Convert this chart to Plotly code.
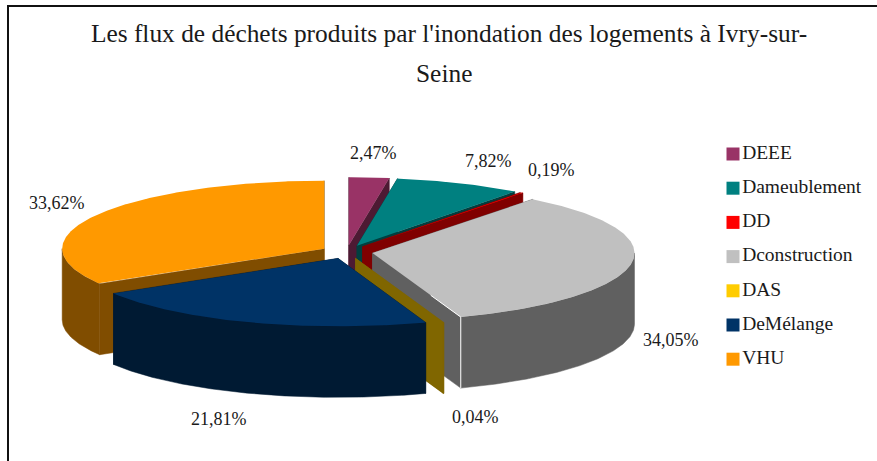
import numpy as np
import plotly.graph_objects as go

categories = ["DEEE", "Dameublement", "DD", "Dconstruction", "DAS", "DeMélange", "VHU"]
shares = [2.47, 7.82, 0.19, 34.05, 0.04, 21.81, 33.62]
top_colors = ["#993366", "#008080", "#FF0000", "#C0C0C0", "#FFCC00", "#003366", "#FF9900"]
side_colors = ["#4D1A33", "#004040", "#800000", "#606060", "#806600", "#001A33", "#804D00"]
title_lines = ["Les flux de déchets produits par l'inondation des logements à Ivry-sur-", "Seine"]

W, H = 877, 461
CX, CY, RX, RY, DEPTH, PULL = 346.8, 252.0, 262.0, 68.0, 71.0, 26.0
FONT = "Liberation Serif"
INK = "#1a1a1a"

label_anchor = [(373, 153), (488, 161), (551, 170), (671, 340), (475, 417), (219, 419), (57, 203)]
draw_order = [0, 1, 2, 3, 4, 6, 5]


def pt(apex, deg):
    t = np.radians(deg)
    return apex[0] + RX * np.sin(t), apex[1] - RY * np.cos(t)


def arc(apex, a, b):
    n = max(2, int(abs(b - a) * 2) + 2)
    ts = np.radians(np.linspace(a, b, n))
    return apex[0] + RX * np.sin(ts), apex[1] - RY * np.cos(ts)


def poly(xs, ys, color, name, lw=0.5):
    return go.Scatter(x=list(xs) + [xs[0]], y=list(ys) + [ys[0]], mode="lines", fill="toself",
                      fillcolor=color, line=dict(color=color, width=lw), name=name,
                      hoverinfo="skip", showlegend=False)


edges = np.concatenate([[0], np.cumsum(shares)]) * 3.6 / (sum(shares) / 100)
fig = go.Figure()

for i in draw_order:
    a, b = edges[i], edges[i + 1]
    mid = np.radians((a + b) / 2)
    apex = (CX + PULL * np.sin(mid), CY - PULL * np.cos(mid) * RY / RX)
    name = categories[i]
    # radial cut faces
    for ang in (a, b):
        x, y = pt(apex, ang)
        fig.add_trace(poly([apex[0], x, x, apex[0]], [apex[1], y, y + DEPTH, apex[1] + DEPTH], side_colors[i], name))
    # front rim
    lo, hi = max(a, 90), min(b, 270)
    if hi > lo:
        ax, ay = arc(apex, lo, hi)
        fig.add_trace(poly(np.concatenate([ax, ax[::-1]]), np.concatenate([ay, ay[::-1] + DEPTH]), side_colors[i], name))
    # top face
    ax, ay = arc(apex, a, b)
    fig.add_trace(poly(np.concatenate([[apex[0]], ax]), np.concatenate([[apex[1]], ay]), top_colors[i], name, lw=0))
    # white highlight on the corner of the large grey slice
    if name == "Dconstruction":
        x, y = pt(apex, b)
        fx, fy = apex[0] + (x - apex[0]) * 0.66, apex[1] + (y - apex[1]) * 0.66
        fig.add_trace(go.Scatter(x=[fx, x, x], y=[fy, y, y + DEPTH], mode="lines",
                                 line=dict(color="white", width=1), hoverinfo="skip", showlegend=False))

# legend
leg_y = [154 + i * 34.2 for i in range(len(categories))]
fig.add_trace(go.Scatter(x=[733] * len(categories), y=leg_y, mode="markers+text", text=categories,
                         textposition="middle right", hoverinfo="skip", showlegend=False,
                         textfont=dict(family=FONT, size=19.5, color=INK),
                         marker=dict(symbol="square", size=13, color=top_colors, line=dict(width=0))))

annotations = [dict(x=xy[0], y=xy[1], text=f"{v:.2f}%".replace(".", ","), showarrow=False,
                    xanchor="center", yanchor="middle", font=dict(family=FONT, size=18, color=INK))
               for xy, v in zip(label_anchor, shares)]
annotations.append(dict(x=444, y=73, text=title_lines[1], showarrow=False, xanchor="center", yanchor="middle",
                        font=dict(family=FONT, size=25.4, color=INK)))

fig.update_layout(
    width=W, height=H, margin=dict(l=0, r=0, t=0, b=0), autosize=False,
    paper_bgcolor="white", plot_bgcolor="white", showlegend=False,
    title=dict(text=title_lines[0], x=449 / W, xanchor="center", y=1 - 33 / H, yanchor="middle",
               font=dict(family=FONT, size=25.4, color=INK)),
    xaxis=dict(range=[0, W], visible=False, fixedrange=True),
    yaxis=dict(range=[H, 0], visible=False, fixedrange=True),
    annotations=annotations,
    shapes=[dict(type="rect", x0=8, y0=6, x1=W + 5, y1=H + 5, line=dict(color="#111111", width=2))],
)
fig.write_html("out.html", config={"displayModeBar": False},
               post_script="document.body.style.margin='0';document.body.style.overflow='hidden';")
